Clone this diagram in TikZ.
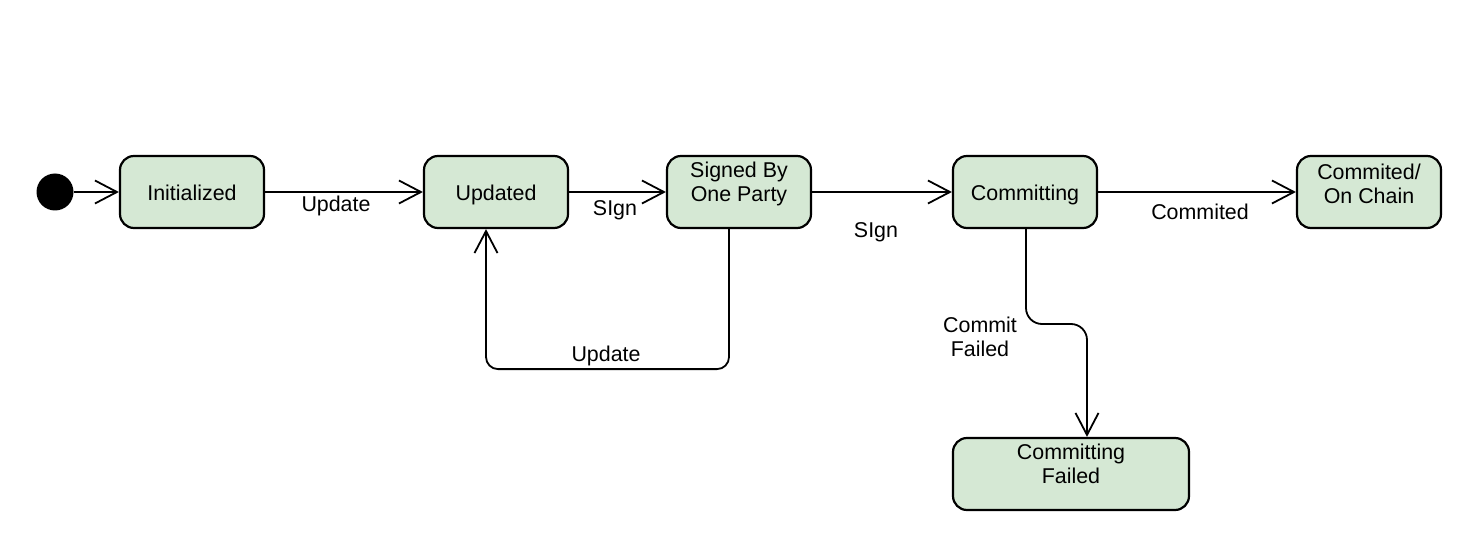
\documentclass[tikz,border=0pt]{standalone}
\usepackage{fontspec}
\setmainfont{Liberation Sans}
\usetikzlibrary{arrows.meta}
\definecolor{stfill}{HTML}{D5E8D4}
\tikzset{
  state/.style={draw=black, line width=2.2pt, fill=stfill, rounded corners=14pt,
    minimum width=144pt, minimum height=72pt, inner sep=0pt, align=center,
    text height=22pt, text depth=4pt,
    font=\fontsize{21.4}{24.5}\selectfont},
  twoline/.style={label={[align=center, font=\fontsize{21.4}{24.5}\selectfont, yshift=8pt]center:#1}},
  twolinehigh/.style={label={[align=center, font=\fontsize{21.4}{24.5}\selectfont, yshift=10pt]center:#1}},
  edgelbl/.style={font=\fontsize{21.4}{24.5}\selectfont, align=center, inner sep=0pt},
  tr/.style={line width=1.8pt, -{Straight Barb[length=22pt, width=23pt, line width=1.8pt]}},
}
\begin{document}
\begin{tikzpicture}[x=1pt, y=-1pt]
\useasboundingbox[fill=white] (0,0) rectangle (1467,545);
\node[circle, fill=black, minimum size=37pt, inner sep=0pt] (start) at (55,192) {};
\node[state] (init) at (192,192) {Initialized};
\node[state] (up) at (496,192) {Updated};
\node[state, twoline={Signed By\\One Party}] (sb) at (739,192) {};
\node[state] (cm) at (1025,192) {Committing};
\node[state, twoline={Commited/\\On Chain}] (oc) at (1369,192) {};
\node[state, minimum width=236pt, twolinehigh={Committing\\Failed}] (cf) at (1071,474) {};

\draw[tr] (start) -- (init);
\draw[tr] (init) -- (up);
\draw[tr] (up) -- (sb);
\draw[tr] (sb) -- (cm);
\draw[tr] (cm) -- (oc);
\draw[tr, rounded corners=12pt] ([xshift=-10pt]sb.south) -- ++(0,140) -| ([xshift=-10pt]up.south);
\draw[tr, rounded corners=16pt] ([xshift=1pt]cm.south) -- (1026,324) -- (1087,324) -- ([xshift=16pt]cf.north);

\node[edgelbl] (l1) at (336,206) {Update};
\node[edgelbl] (l2) at (615,210) {SIgn};
\node[edgelbl] (l3) at (876,232) {SIgn};
\node[edgelbl] (l4) at (1200,212) {Commited};
\node[edgelbl] (l5) at (606,356) {Update};
\node[edgelbl] (l6) at (980,337) {Commit\\Failed};
\end{tikzpicture}
\end{document}
